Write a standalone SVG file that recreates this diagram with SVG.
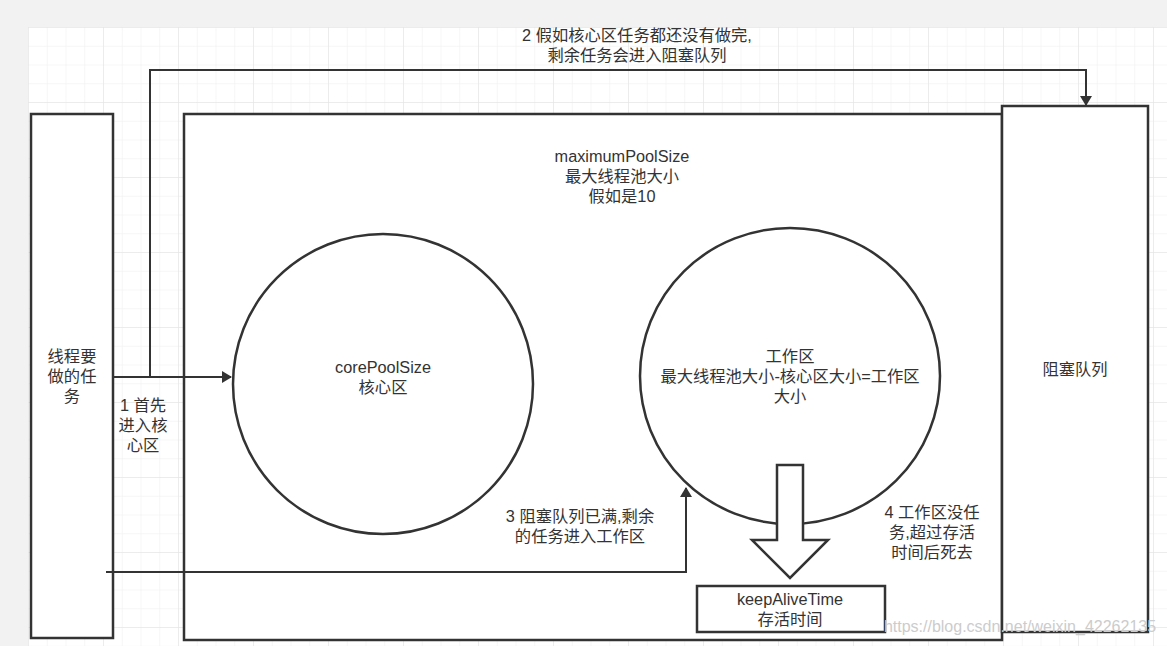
<svg xmlns="http://www.w3.org/2000/svg" width="1167" height="646" viewBox="0 0 1167 646">
<defs>
<pattern id="minor" x="28" y="27" width="18.75" height="18.75" patternUnits="userSpaceOnUse"><path d="M0 0H18.75M0 0V18.75" stroke="#eeeeee" stroke-width="1" fill="none"/></pattern>
<pattern id="major" x="28" y="27" width="75" height="75" patternUnits="userSpaceOnUse"><path d="M0 0H75M0 0V75" stroke="#e2e2e2" stroke-width="1" fill="none"/></pattern>
<marker id="ah" markerWidth="10" markerHeight="12" refX="9" refY="6" orient="auto" markerUnits="userSpaceOnUse" viewBox="0 0 10 12"><path d="M0 0L10 6L0 12Z" fill="#333"/></marker>
</defs>
<style>
.box{fill:#fff;stroke:#333;stroke-width:2.5}
.t{font-family:"Liberation Sans","Noto Sans CJK SC",sans-serif;font-size:16.3px;fill:#333;text-anchor:middle}
.c{fill:none;stroke:#333;stroke-width:2}
</style>
<rect width="1167" height="646" fill="#f2f2f2"/>
<rect x="28" y="27" width="1139" height="619" fill="#fff"/>
<rect x="28" y="27" width="1139" height="619" fill="url(#minor)"/>
<rect x="28" y="27" width="1139" height="619" fill="url(#major)"/>
<g id="tasks"><rect class="box" x="31" y="114" width="82" height="524"/><text class="t" x="72" y="362">线程要</text><text class="t" x="72" y="382">做的任</text><text class="t" x="72" y="402">务</text></g>
<g id="maxpool"><rect class="box" x="184" y="114" width="818" height="526"/><text class="t" x="622" y="162">maximumPoolSize</text><text class="t" x="622" y="182">最大线程池大小</text><text class="t" x="622" y="202">假如是10</text></g>
<g id="queue"><rect class="box" x="1002" y="106" width="146" height="526"/><text class="t" x="1075" y="375">阻塞队列</text></g>
<g id="core"><circle class="box" cx="383" cy="384" r="150"/><text class="t" x="383" y="373">corePoolSize</text><text class="t" x="383" y="393">核心区</text></g>
<g id="work"><ellipse class="box" cx="790" cy="376" rx="150" ry="148"/><text class="t" x="790" y="362">工作区</text><text class="t" x="790" y="382">最大线程池大小-核心区大小=工作区</text><text class="t" x="790" y="402">大小</text></g>
<g id="bigarrow"><path class="box" d="M777 465H803V540H828L790 578L752 540H777Z"/></g>
<g id="keepalive"><rect class="box" x="697" y="586" width="188" height="46"/><text class="t" x="790" y="605">keepAliveTime</text><text class="t" x="790" y="625">存活时间</text></g>
<g id="connectors">
<path class="c" d="M113 377H231" marker-end="url(#ah)"/>
<path class="c" d="M150 377V70H1086V105" marker-end="url(#ah)"/>
<path class="c" d="M106 572H686V488" marker-end="url(#ah)"/>
</g>
<g id="labels">
<text class="t" x="637" y="41">2 假如核心区任务都还没有做完,</text><text class="t" x="637" y="61">剩余任务会进入阻塞队列</text>
<text class="t" x="143" y="411">1 首先</text><text class="t" x="143" y="431">进入核</text><text class="t" x="143" y="451">心区</text>
<text class="t" x="580" y="522">3 阻塞队列已满,剩余</text><text class="t" x="580" y="542">的任务进入工作区</text>
<text class="t" x="932" y="518">4 工作区没任</text><text class="t" x="932" y="538">务,超过存活</text><text class="t" x="932" y="558">时间后死去</text>
<text x="1020" y="632" style="font-family:'Liberation Sans',sans-serif;font-size:16px;fill:#ccc;text-anchor:middle">https://blog.csdn.net/weixin_42262135</text>
</g>
</svg>
